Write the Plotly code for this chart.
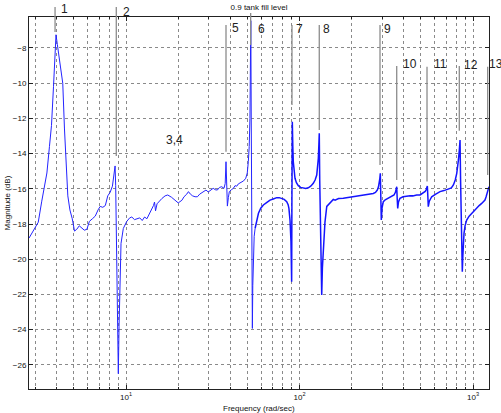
import numpy as np
import plotly.graph_objects as go

# ---- data (frequency in rad/sec, magnitude in dB) ----
freq = [2.76, 2.95, 3.12, 3.27, 3.40, 3.50, 3.62, 3.72, 3.82, 3.88, 3.95, 4.02, 4.10, 4.22, 4.32,
        4.42, 4.52, 4.62, 4.75, 4.90, 5.05, 5.20, 5.38, 5.55, 5.75, 5.95, 6.15, 6.40, 6.65, 6.90,
        7.10, 7.35, 7.60, 7.85, 8.10, 8.35, 8.55, 8.65, 8.72, 8.80, 8.92, 9.03, 9.12, 9.22, 9.36,
        9.65, 10.1, 10.5, 10.8, 11.2, 11.6, 12.0, 12.4, 12.8, 13.2, 13.7, 14.1, 14.4, 14.6, 14.8,
        15.1, 15.4, 16.1, 16.8, 17.4, 18.3, 19.2, 20.0, 21.0, 21.6, 22.4, 22.9, 23.5, 24.2, 25.0,
        25.8, 26.6, 27.3, 28.2, 28.9, 29.8, 30.8, 31.8, 32.7, 33.6, 34.6, 35.6, 36.7, 37.3, 37.7,
        38.0, 38.4, 38.9, 39.4, 40.5, 41.6, 42.5, 43.5, 44.4, 45.5, 46.4, 47.6, 49.0, 50.0, 50.7,
        51.3, 51.8, 52.2, 52.4, 52.7, 53.0, 53.3, 53.5, 53.8, 54.2, 54.8, 55.5, 56.7, 58.0, 59.8,
        61.9, 64.6, 67.6, 70.6, 73.9, 76.4, 78.9, 81.6, 84.4, 86.0, 86.9, 88.2, 89.3, 89.8, 90.1,
        90.4, 90.9, 91.5, 92.1, 93.0, 94.2, 96.0, 98.4, 101.5, 105.1, 108.6, 112.4, 116.0, 120.1,
        123.0, 125.7, 127.2, 128.4, 129.3, 130.0, 130.8, 132.0, 133.5, 134.3, 135.5, 137.2, 138.5,
        140.2, 143.6, 146.6, 150.0, 156.6, 160.3, 168.0, 178.8, 190.0, 204.2, 218.0, 233.2, 249.0,
        266.2, 274.0, 280.8, 285.0, 288.4, 290.5, 292.3, 294.0, 296.1, 299.0, 304.2, 312.0, 325.0,
        338.0, 350.5, 357.0, 361.0, 363.4, 365.5, 368.2, 372.0, 379.4, 395.0, 414.8, 433.6, 450.0,
        473.4, 495.5, 515.0, 530.0, 536.0, 541.0, 545.6, 549.0, 552.4, 560.0, 578.0, 610.0, 645.7,
        680.0, 721.0, 750.0, 771.0, 790.0, 806.0, 816.0, 824.0, 834.0, 842.0, 848.0, 855.0, 862.0,
        867.6, 874.0, 880.0, 887.4, 900.0, 919.6, 950.0, 982.4, 1015, 1050, 1085, 1122, 1150,
        1172, 1190, 1208, 1222, 1236]
mag_db = [-18.80, -18.35, -17.90, -16.70, -15.70, -15.10, -13.60, -12.40, -10.20, -8.60, -7.25,
          -7.80, -8.40, -9.30, -10.00, -12.60, -14.30, -16.40, -17.20, -17.70, -18.40, -18.30,
          -18.10, -18.20, -18.35, -18.30, -17.85, -17.70, -17.55, -17.20, -17.00, -17.05, -16.95,
          -16.40, -16.20, -15.85, -15.20, -14.70, -15.80, -19.50, -23.50, -26.50, -23.80, -20.80,
          -19.10, -18.25, -17.85, -17.65, -17.60, -17.75, -17.72, -17.65, -17.80, -17.60, -17.70,
          -17.40, -17.15, -16.95, -16.75, -17.25, -16.85, -16.75, -16.55, -16.40, -16.35, -16.48,
          -16.65, -16.80, -16.65, -16.45, -16.30, -16.16, -16.30, -16.40, -16.45, -16.45, -16.30,
          -16.22, -16.10, -16.07, -16.18, -16.05, -15.97, -16.05, -16.07, -15.92, -15.88, -15.97,
          -15.70, -14.46, -15.80, -16.98, -16.50, -16.16, -16.05, -15.97, -15.82, -15.85, -15.72,
          -15.65, -15.60, -15.55, -15.40, -15.10, -14.46, -13.60, -12.00, -9.50, -6.45, -12.00,
          -17.50, -21.50, -23.93, -21.50, -19.38, -18.70, -18.24, -17.75, -17.39, -17.10, -16.92,
          -16.78, -16.64, -16.58, -16.50, -16.50, -16.54, -16.60, -16.73, -16.90, -17.11, -17.80,
          -19.00, -20.20, -21.28, -17.00, -12.19, -13.60, -14.46, -15.00, -15.40, -15.65, -15.82,
          -15.92, -15.97, -15.98, -15.94, -15.85, -15.69, -15.50, -15.22, -14.80, -14.27, -13.50,
          -12.85, -15.50, -19.00, -21.50, -22.03, -20.50, -19.38, -18.50, -17.90, -17.00, -16.90,
          -16.75, -16.60, -16.64, -16.55, -16.54, -16.50, -16.45, -16.40, -16.35, -16.30, -16.26,
          -16.20, -16.07, -15.90, -15.69, -15.40, -15.12, -16.40, -17.77, -17.10, -16.73, -16.62,
          -16.54, -16.45, -16.35, -16.20, -16.00, -15.88, -16.50, -17.11, -16.75, -16.54, -16.45,
          -16.41, -16.39, -16.40, -16.35, -16.35, -16.25, -16.15, -16.07, -15.95, -15.84, -16.40,
          -17.01, -16.70, -16.45, -16.30, -16.16, -16.10, -16.03, -15.95, -15.78, -15.50, -15.12,
          -14.80, -14.36, -13.80, -13.23, -15.50, -18.00, -19.80, -20.71, -19.80, -19.00, -18.53,
          -18.10, -17.77, -17.55, -17.39, -17.25, -17.11, -16.95, -16.83, -16.72, -16.64, -16.45,
          -16.26, -16.05, -15.88]

# mode marker lines
line_names = ["1", "2", "5", "6", "7", "8", "9", "10", "11", "12", "13"]
line_freq = [3.90, 8.79, 37.7, 52.3, 90.5, 130.0, 291.1, 363.3, 543.1, 833.7, 1215]
line_top_db = [-5.67, -5.67, -6.69, -6.01, -6.69, -6.69, -6.69, -9.02, -9.06, -9.02, -9.06]
line_bottom_db = [-7.09, -14.13, -13.89, -7.83, -11.24, -12.66, -14.64, -15.50, -15.59, -12.70, -15.21]

# mode labels
label_texts = ["1", "2", "3,4", "5", "6", "7", "8", "9", "10", "11", "12", "13"]
label_freq = [4.165, 9.48, 16.78, 40.3, 56.9, 94.2, 134.8, 302.9, 389.8, 588.3, 875.9, 1228]
label_db = [-5.79, -5.96, -13.22, -6.89, -6.92, -6.92, -6.92, -6.92, -8.91, -8.91, -8.97, -8.91]

title_text = "0.9 tank fill level"
x_title = "Frequency (rad/sec)"
y_title = "Magnitude (dB)"

X_RANGE = [0.4409, 3.0922]   # log10 of rad/sec
Y_RANGE = [-27.37, -6.24]

FONT = "Liberation Sans, Arial, sans-serif"


def ypaper(v):
    return (v - Y_RANGE[0]) / (Y_RANGE[1] - Y_RANGE[0])


freq_a = np.array(freq)
mag_a = np.array(mag_db)
low = freq_a <= 55.5
high = freq_a >= 55.5

fig = go.Figure()
fig.add_trace(go.Scatter(x=freq_a[low], y=mag_a[low], mode="lines",
                         line=dict(color="#2424ff", width=1), showlegend=False))
fig.add_trace(go.Scatter(x=freq_a[high], y=mag_a[high], mode="lines",
                         line=dict(color="#1414ff", width=1.5), showlegend=False))

for f, top, bot in zip(line_freq, line_top_db, line_bottom_db):
    fig.add_shape(type="line", xref="x", yref="paper", x0=f, x1=f,
                  y0=ypaper(bot), y1=ypaper(top),
                  line=dict(color="#8c8c8c", width=1.3))

for t, f, d in zip(label_texts, label_freq, label_db):
    fig.add_annotation(x=np.log10(f), y=ypaper(d), xref="x", yref="paper", text=t,
                       showarrow=False, xanchor="left", yanchor="middle",
                       font=dict(family=FONT, size=12, color="#222222"), borderpad=0)

fig.add_annotation(x=0.5, y=-0.052, xref="paper", yref="paper", text=x_title,
                   showarrow=False, xanchor="center", yanchor="middle",
                   font=dict(family=FONT, size=8, color="#111"))
fig.add_annotation(x=-0.047, y=0.5, xref="paper", yref="paper", text=y_title,
                   showarrow=False, xanchor="center", yanchor="middle", textangle=-90,
                   font=dict(family=FONT, size=8, color="#111"))

grid = dict(showgrid=True, gridcolor="#8a8a8a", gridwidth=1, griddash="dot")

fig.update_layout(
    width=501, height=413,
    margin=dict(l=29, r=12, t=17, b=24),
    paper_bgcolor="white", plot_bgcolor="white",
    font=dict(family=FONT, size=8, color="#111"),
    title=dict(text=title_text, x=0.517, xanchor="center", y=0.983, yanchor="middle",
               font=dict(family=FONT, size=8, color="#111")),
    showlegend=False,
)
fig.update_xaxes(type="log", range=X_RANGE, dtick=1, exponentformat="none",
                 labelalias={"10": "10<sup>1</sup>", "100": "10<sup>2</sup>", "1000": "10<sup>3</sup>"},
                 ticks="inside", ticklen=4, tickcolor="#222", showline=True, linecolor="#222",
                 linewidth=1, mirror="ticks", zeroline=False,
                 minor=dict(dtick="D1", ticks="inside", ticklen=2, tickcolor="#222",
                            showgrid=True, gridcolor="#8a8a8a", gridwidth=1, griddash="dot"),
                 tickfont=dict(family=FONT, size=8, color="#111"), **grid)
fig.update_yaxes(range=Y_RANGE, dtick=2, tick0=0, ticks="inside", ticklen=4, tickcolor="#222",
                 showline=True, linecolor="#222", linewidth=1, mirror="ticks", zeroline=False,
                 tickfont=dict(family=FONT, size=8, color="#111"), **grid)

fig.write_html("out.html")
